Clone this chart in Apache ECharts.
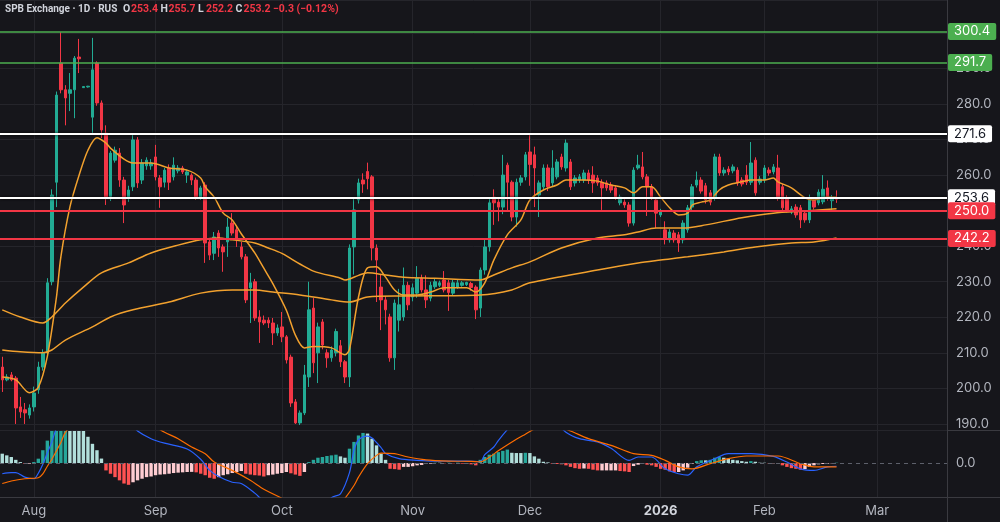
<!DOCTYPE html>
<html>
<head>
<meta charset="utf-8">
<script src="https://cdn.jsdelivr.net/npm/echarts@6/dist/echarts.min.js"></script>
<style>
  html, body { margin: 0; padding: 0; background: #16161b; }
  #main { width: 1000px; height: 522px; }
</style>
</head>
<body>
<div id="main"></div>
<script>
// daily bars, one slot each; empty slots on the right are future days
var slotCount = 210;
var monthLabels = ['Aug', 'Sep', 'Oct', 'Nov', 'Dec', '2026', 'Feb', 'Mar'];
var monthAt = [7, 34, 62, 91, 117, 146, 169, 194];

var opens = [
  206.0,202.4,203.8,202.9,194.8,194.0,192.5,194.8,199.6,206.0,
  210.0,230.0,258.0,291.5,284.0,283.0,284.0,293.2,284.6,284.8,
  276.3,291.5,280.3,271.8,254.0,264.2,266.2,258.6,253.8,256.7,
  269.9,258.6,262.6,262.6,265.1,259.2,258.0,262.0,259.5,261.2,
  262.0,260.0,260.0,258.6,253.8,257.2,241.2,238.0,243.7,239.8,
  241.2,246.5,244.6,239.8,237.0,228.3,230.0,220.1,219.2,219.2,
  218.4,215.6,217.3,214.5,208.8,196.2,190.3,193.1,203.2,222.6,
  210.0,218.7,210.0,208.6,210.0,212.0,207.5,203.2,239.8,253.0,
  258.6,261.0,259.5,239.5,228.5,224.9,220.1,208.6,219.2,220.1,
  229.0,225.7,226.8,231.0,227.7,225.4,228.6,229.0,230.5,229.7,
  226.8,228.5,229.0,229.2,229.5,228.5,222.6,233.3,239.8,253.8,
  252.4,251.0,262.8,258.0,248.2,258.0,259.5,266.5,265.7,254.4,
  256.7,262.0,257.8,259.5,265.1,262.0,263.7,257.8,258.6,258.6,
  260.6,260.0,259.2,258.0,257.8,257.2,256.4,252.2,252.4,251.6,
  246.5,262.0,262.3,259.5,256.7,253.0,248.8,244.6,241.8,243.7,
  243.2,241.8,244.6,251.0,257.2,258.6,257.0,255.0,253.5,265.1,
  260.6,261.7,261.2,261.4,258.6,260.0,258.0,264.2,258.0,258.6,
  261.4,260.9,262.0,256.7,253.5,249.6,251.0,250.8,249.3,247.4,
  253.0,252.2,252.5,256.4,252.8,253.4
];
var closes = [
  202.4,203.2,202.4,194.5,193.4,193.1,194.5,198.7,206.0,210.0,
  229.7,254.4,282.5,284.0,281.7,284.0,292.9,292.7,284.9,285.0,
  289.6,280.3,272.7,253.8,266.2,267.0,258.6,251.6,255.8,269.9,
  257.8,263.4,264.2,263.4,259.5,256.7,261.4,258.0,262.8,262.0,
  260.9,260.9,258.6,253.8,256.4,240.9,237.5,242.6,239.5,238.4,
  245.4,243.7,241.8,237.0,224.9,229.7,219.8,218.7,218.4,218.4,
  215.6,217.0,214.5,208.0,195.9,190.3,193.1,203.8,222.1,207.2,
  217.3,212.2,208.6,210.8,216.0,207.5,203.2,239.5,250.2,257.8,
  257.5,259.0,239.5,236.1,224.9,222.1,208.6,224.0,223.5,229.0,
  223.5,228.3,231.0,227.7,224.9,229.0,230.0,229.7,227.7,227.0,
  229.7,229.7,229.7,229.8,228.4,222.1,233.3,239.8,252.2,252.2,
  251.0,260.0,258.0,248.2,258.0,259.2,265.7,263.0,262.0,257.8,
  262.0,256.7,262.0,263.7,262.3,269.0,256.7,259.2,259.5,260.6,
  258.6,257.8,257.8,256.4,256.4,255.8,253.8,253.8,251.6,246.5,
  261.4,262.8,259.5,256.7,253.8,249.3,249.6,242.3,244.0,241.8,
  240.9,246.5,250.8,256.7,258.6,255.5,253.0,252.4,265.1,260.6,
  261.4,260.9,262.3,257.8,257.5,258.0,263.4,255.0,258.9,262.0,
  260.6,262.3,253.5,250.8,250.2,250.5,248.8,247.4,247.4,253.0,
  251.0,255.2,256.0,253.5,253.6,253.2
];
var highs = [
  208.9,204.0,204.6,203.5,197.6,195.9,195.5,200.5,207.5,211.0,
  231.0,256.0,283.5,300.2,285.3,288.7,293.5,298.3,285.0,285.1,
  298.6,292.0,281.0,274.0,266.8,268.0,267.6,259.5,257.0,271.3,
  270.7,264.5,265.0,264.5,268.5,260.0,262.0,263.0,265.0,262.8,
  262.6,261.5,260.5,259.3,257.0,258.0,242.0,244.0,244.5,240.5,
  248.0,249.3,245.5,241.2,237.8,232.5,230.8,222.0,220.5,220.0,
  219.8,218.0,221.5,215.0,209.5,197.0,193.8,206.6,230.0,225.4,
  218.5,219.5,211.0,211.8,216.8,213.6,208.0,240.5,253.5,259.0,
  260.5,263.5,260.0,240.5,232.0,226.0,221.0,225.0,228.0,234.0,
  230.0,229.5,234.4,232.0,231.8,230.0,231.0,230.3,233.0,230.5,
  230.5,230.5,230.2,230.0,230.0,229.0,234.0,242.0,253.5,256.0,
  253.5,265.7,263.5,258.5,259.0,260.0,266.5,271.3,268.0,258.5,
  263.0,263.0,267.0,264.5,266.0,270.0,264.5,260.0,260.3,261.5,
  261.5,262.5,260.0,258.8,258.5,258.0,257.2,254.5,253.2,252.4,
  262.2,265.7,266.5,260.3,257.5,253.8,250.5,247.0,244.8,244.5,
  244.0,247.3,251.6,257.5,261.0,259.4,257.8,255.8,266.0,266.0,
  262.2,262.5,263.0,262.2,259.4,262.8,269.3,265.0,259.7,262.8,
  262.2,263.1,265.7,257.5,254.3,251.3,251.8,251.6,250.1,254.5,
  253.8,256.0,260.0,258.5,254.4,255.7
];
var lows = [
  199.0,202.0,202.0,190.0,191.7,190.0,191.5,193.5,198.5,205.0,
  209.0,229.0,251.0,283.0,274.0,278.0,276.0,288.7,284.5,284.6,
  271.3,279.5,270.4,251.6,252.7,263.5,256.7,246.5,252.5,255.5,
  256.4,257.5,261.5,261.5,258.5,250.8,256.5,255.8,258.5,260.5,
  260.3,257.8,257.2,253.0,253.0,235.3,236.1,236.1,237.0,232.8,
  237.0,243.0,239.8,236.3,224.0,218.4,219.0,212.8,217.8,217.0,
  212.2,214.8,213.0,207.0,194.8,190.0,189.7,192.5,200.4,204.3,
  201.5,211.0,205.8,207.5,209.0,206.0,201.5,200.4,232.0,252.0,
  255.0,256.0,236.0,224.3,216.4,218.0,207.5,205.2,216.0,219.0,
  222.0,224.5,225.5,227.0,222.6,224.5,228.0,228.5,227.0,221.8,
  226.0,228.0,228.6,228.8,227.5,219.5,220.1,232.0,238.5,246.0,
  247.0,249.0,250.0,247.0,245.5,257.0,258.5,257.0,251.0,248.2,
  255.8,255.5,256.8,258.8,261.5,261.0,255.8,256.8,257.8,257.8,
  257.5,255.0,257.0,250.2,255.6,255.0,253.0,251.5,250.8,245.5,
  245.8,261.5,258.8,248.5,253.0,245.1,248.2,240.5,241.0,241.0,
  238.4,240.8,243.8,250.2,256.5,254.8,252.0,251.5,252.8,259.8,
  259.8,260.0,260.5,257.0,256.8,257.2,257.2,254.2,257.3,257.8,
  259.8,260.2,252.8,250.0,249.5,249.0,248.0,245.1,246.6,246.5,
  250.3,251.5,251.8,252.8,250.0,252.2
];

// moving averages as [bar, value]
var maFast = [[0,203.2],[3,202.4],[6,198.8],[8,200.3],[10,209],[12,225.5],[13,237],[15,251],[17,259.8],[19,267],
  [21,270.5],[23,269],[24,267.6],[27,264.5],[29,263.4],[33,263.4],[37,262],[41,261.4],[44,259.2],[45,256.7],
  [47,253.8],[49,249.3],[51,247.4],[53,243.5],[56,238.1],[58,233.8],[60,229.5],[63,222],[65,215],[67,211.4],
  [69,211.8],[73,211.4],[76,209.5],[77,211],[79,225.7],[81,233.9],[83,234.2],[85,231.3],[87,227.7],[89,226.3],
  [92,226.3],[95,227.1],[98,228.3],[103,228.3],[105,227.1],[107,229.7],[109,236.1],[112,243.2],[115,247.4],[117,253],
  [120,255.8],[123,257.2],[125,258.6],[129,258.6],[132,258.3],[135,257.2],[138,256.4],[140,255],[142,256.7],[144,256.7],
  [146,253.8],[148,250.8],[150,248.8],[152,249.3],[153,251.6],[155,252.4],[157,253],[159,255.8],[161,257.2],[164,258.1],
  [166,258.6],[169,258.6],[171,259.2],[172,258.1],[175,256.4],[178,253.6],[180,253],[183,253.8],[185,253.8]];
var maMid = [[0,222.1],[4,220.1],[9,218.4],[11,220.1],[14,224],[18,228.5],[22,232.5],[28,235.3],[33,238.1],[39,240.3],
  [44,241.8],[48,242.3],[51,241.8],[56,240.9],[59,239.5],[62,238],[64,236.5],[66,235],[69,233],[75,231],
  [76,230.5],[79,231.8],[81,232.5],[85,231.9],[89,231.3],[96,231],[106,230.5],[109,231.9],[113,233.9],[117,235.6],
  [124,239.5],[132,242.3],[138,243.2],[141,244],[145,245.1],[148,245.1],[151,245.1],[156,246],[164,248],[171,249.3],
  [178,249.9],[185,250.5]];
var maSlow = [[0,210.8],[4,210.3],[9,210],[11,210.8],[14,213.6],[20,217.3],[24,220.1],[29,222.1],[37,224.3],[44,226.8],
  [51,227.7],[56,227.7],[60,227.1],[66,226.3],[73,224.9],[77,224.3],[81,225.7],[89,226],[106,226.3],[113,227.7],
  [117,229.7],[132,233.3],[141,235.3],[146,236.1],[152,237],[160,238.4],[167,239.8],[175,240.9],[180,241.2],[185,242.3]];

// MACD panel
var macdHist = [
  1.46,1.2,0.94,0.5,0.15,-0.1,-0.1,0.15,0.68,2.0,
  3.5,5.5,7.0,8.0,8.5,8.0,7.5,6.5,5.5,4.1,
  3.0,2.0,0.7,-1.15,-1.67,-2.2,-2.7,-3.2,-3.4,-3.0,
  -2.7,-2.45,-2.2,-2.1,-1.9,-1.8,-1.75,-1.67,-1.56,-1.5,
  -1.45,-1.4,-1.38,-1.45,-1.67,-1.9,-2.3,-2.45,-2.2,-1.9,
  -1.75,-1.56,-1.4,-1.25,-1.67,-1.8,-1.9,-1.95,-2.1,-1.9,
  -1.8,-1.67,-1.56,-1.4,-1.6,-1.8,-2.0,-1.4,0.15,0.5,
  0.83,0.94,1.1,1.2,1.3,1.04,0.83,2.24,3.3,4.3,
  4.7,4.6,3.8,2.76,1.46,0.5,-0.9,-0.95,-1.04,-0.6,
  -0.6,-0.5,-0.36,-0.3,-0.15,-0.1,0.05,0.05,-0.05,0.05,
  -0.05,0.05,-0.1,-0.1,-0.2,-0.36,0.5,0.94,1.3,1.46,
  1.7,1.9,2.1,1.6,1.56,1.56,1.6,1.56,1.04,0.68,
  0.2,0.1,-0.1,-0.15,-0.2,-0.36,-0.6,-0.8,-0.9,-0.85,
  -0.9,-1.04,-1.15,-1.15,-1.15,-1.15,-1.15,-1.25,-1.3,-1.4,
  -0.47,-0.26,-0.1,-0.26,-0.36,-0.6,-0.9,-1.04,-1.3,-1.4,
  -1.4,-1.15,-0.73,-0.1,0.3,0.42,0.42,0.5,0.83,0.94,
  0.83,0.68,0.5,0.42,0.3,0.2,0.3,0.2,0.05,0.05,
  -0.05,-0.05,-0.15,-0.36,-0.6,-0.8,-0.9,-1.04,-0.94,-0.6,
  -0.36,-0.2,-0.15,-0.1,-0.05,0.05
];
var macdLine = [[0,-1.67],[2,-1.5],[3,-1.5],[5,-2.2],[7,-2.45],[8,-1.6],[9,-0.2],[10,1.6],[11,3.3],[12,5.4],
  [14,8],[17,9.8],[20,10.2],[24,9],[28,6.5],[30,5],[33,3.8],[36,3.1],[41,2.2],[44,0.6],
  [46,-1.15],[48,-2.1],[51,-3.0],[53,-3.2],[56,-4.7],[58,-6],[62,-8],[66,-9],[70,-8],[73,-5.4],
  [75,-4.8],[77,-1.5],[78,2.0],[79,3.6],[81,4.2],[82,3.9],[84,2.4],[85,1.5],[88,0.68],[92,0.42],
  [96,0.31],[103,0.31],[106,0.2],[107,1.3],[109,2.5],[110,3.5],[112,5.2],[115,7.5],[118,8.2],[121,7.5],
  [125,4.8],[128,3.8],[132,3.3],[135,2.3],[139,0.42],[141,0.94],[144,0.94],[147,-0.9],[150,-1.67],[152,-1.9],
  [154,-0.6],[158,0.68],[161,1.46],[166,1.46],[171,1.04],[174,0.15],[177,-0.9],[180,-1.15],[183,-0.6],[185,-0.5]];
var signalLine = [[0,-3.2],[2,-2.8],[5,-2.45],[8,-2.3],[9,-1.7],[10,-0.5],[11,0.6],[13,3.2],[14,4.8],[17,7],
  [21,8.3],[25,8.5],[30,7.2],[34,5.6],[36,4.8],[39,3.8],[42,2.5],[45,1.46],[47,0.15],[51,-1.15],
  [55,-2.7],[58,-4.1],[62,-5.5],[66,-7],[70,-7.5],[74,-7],[76,-5.5],[78,-3.5],[79,-2.2],[81,-0.1],
  [83,1.2],[84,1.56],[87,1.46],[90,0.94],[94,0.5],[99,0.31],[104,0.26],[106,0.2],[108,0.9],[110,1.9],
  [114,3.7],[116,4.5],[118,5.3],[122,6],[126,5],[130,3.8],[135,2.76],[140,1.46],[144,1.2],[147,0.42],
  [150,-0.6],[153,-0.9],[157,-0.1],[161,0.68],[165,1.1],[172,1.1],[177,-0.1],[180,-0.6],[185,-0.6]];

// horizontal levels drawn on the chart
var levels = [300.4, 291.7, 271.6, 253.6, 250.0, 242.2];
var levelKinds = ['green', 'green', 'white', 'white', 'red', 'red'];

// legend line at the top: symbol info, then O/H/L/C and change
var headerName = 'SPB Exchange · 1D · RUS';
var headerKeys = ['O', 'H', 'L', 'C'];
var headerVals = ['253.4', '255.7', '252.2', '253.2'];
var headerChange = '−0.3 (−0.12%)';

var UP = '#22ab94', DOWN = '#f23645', MA = '#f2a12e', GRID = '#25252b', TXT = '#b2b5be';
var kindStyle = {
  green: { line: '#4caf50', bg: '#4caf50', fg: '#ffffff', width: 1.5 },
  white: { line: '#ffffff', bg: '#ffffff', fg: '#131722', width: 2 },
  red:   { line: '#f23645', bg: '#f23645', fg: '#ffffff', width: 2 }
};

var categories = [];
for (var i = 0; i < slotCount; i++) {
  var k = monthAt.indexOf(i);
  categories.push(k >= 0 ? monthLabels[k] : '');
}
var isMonth = function (idx, val) { return val !== ''; };

var candleData = opens.map(function (o, i) { return [o, closes[i], lows[i], highs[i]]; });

var histData = macdHist.map(function (h, i) {
  var prev = i > 0 ? macdHist[i - 1] : h;
  var c;
  if (h >= 0) c = h > prev ? '#26a69a' : '#b2dfdb';
  else c = h < prev ? '#ff5252' : '#ffcdd2';
  return { value: h, itemStyle: { color: c } };
});

var levelLines = levels.map(function (v, i) {
  var kind = levelKinds[i], s = kindStyle[kind];
  return {
    yAxis: v,
    lineStyle: {
      color: s.line, type: 'solid', width: s.width, opacity: 1,
      shadowColor: kind === 'white' ? '#000' : 'transparent',
      shadowBlur: kind === 'white' ? 3 : 0
    },
    label: {
      show: true, position: 'end', distance: 1,
      formatter: v.toFixed(1),
      backgroundColor: s.bg, color: s.fg, borderRadius: 2,
      fontSize: 13, fontFamily: 'Inter', padding: [2, 6, 2, 6]
    }
  };
});

function maSeries(data) {
  return {
    type: 'line', xAxisIndex: 0, yAxisIndex: 0, data: data,
    smooth: 0.3, symbol: 'none', z: 3,
    lineStyle: { color: MA, width: 1.5 }
  };
}

var headerText = '{n|' + headerName + '}' +
  headerKeys.map(function (key, i) { return '{k|' + key + '}{v|' + headerVals[i] + '}'; }).join('') +
  '{v|' + headerChange + '}';

var chart = echarts.init(document.getElementById('main'));
var option = {
  backgroundColor: '#16161b',
  animation: false,
  textStyle: { fontFamily: 'Inter' },
  title: {
    left: 5, top: 4, padding: 0,
    text: headerText,
    textStyle: {
      fontSize: 10,
      rich: {
        n: { color: '#d1d4dc', fontSize: 10, fontFamily: 'Roboto', width: 118 },
        k: { color: '#d1d4dc', fontSize: 10.5, fontFamily: 'Roboto', width: 8 },
        v: { color: '#f23645', fontSize: 10.5, fontFamily: 'Roboto', width: 29.5 }
      }
    }
  },
  grid: [
    { left: 0, right: 53, top: 0, height: 430 },
    { left: 0, right: 53, top: 431, height: 66 }
  ],
  xAxis: [
    {
      type: 'category', gridIndex: 0, data: categories, boundaryGap: true,
      axisLine: { show: false }, axisTick: { show: false }, axisLabel: { show: false },
      splitLine: { show: true, interval: isMonth, alignWithLabel: true, lineStyle: { color: GRID } }
    },
    {
      type: 'category', gridIndex: 1, data: categories, boundaryGap: true,
      axisLine: { show: false }, axisTick: { show: false },
      axisLabel: {
        interval: isMonth, color: TXT, fontSize: 13, margin: 8,
        formatter: function (v) { return v === '2026' ? '{y|2026}' : v; },
        rich: { y: { fontWeight: 'bold', color: '#d1d4dc', fontSize: 13 } }
      },
      splitLine: { show: true, interval: isMonth, alignWithLabel: true, lineStyle: { color: GRID } }
    }
  ],
  yAxis: [
    {
      type: 'value', gridIndex: 0, position: 'right', min: 188.3, max: 309.25,
      minInterval: 10, maxInterval: 10,
      axisLine: { show: false }, axisTick: { show: false },
      axisLabel: {
        color: TXT, fontSize: 13, margin: 9,
        formatter: function (v) { return Math.abs(v % 10) < 0.001 ? v.toFixed(1) : ''; }
      },
      splitLine: { lineStyle: { color: GRID } }
    },
    {
      type: 'value', gridIndex: 1, position: 'right', min: -5.3, max: 5,
      axisLine: { show: false }, axisTick: { show: false }, splitLine: { show: false },
      axisLabel: {
        color: TXT, fontSize: 13, margin: 9,
        formatter: function (v) { return v === 0 ? '0.0' : ''; }
      }
    }
  ],
  series: [
    {
      type: 'candlestick', xAxisIndex: 0, yAxisIndex: 0, data: candleData,
      barWidth: 3, z: 2,
      itemStyle: { color: UP, color0: DOWN, borderColor: UP, borderColor0: DOWN, borderWidth: 1 }
    },
    maSeries(maSlow),
    maSeries(maMid),
    maSeries(maFast),
    {
      type: 'line', xAxisIndex: 0, yAxisIndex: 0, data: [], z: 5,
      markLine: { silent: true, symbol: ['none', 'none'], animation: false, data: levelLines }
    },
    {
      type: 'bar', xAxisIndex: 1, yAxisIndex: 1, data: histData, barWidth: 3.4, clip: true,
      markLine: {
        silent: true, symbol: ['none', 'none'], label: { show: false },
        lineStyle: { color: '#5d606b', type: [4, 4], width: 1 },
        data: [{ yAxis: 0 }]
      }
    },
    {
      type: 'line', xAxisIndex: 1, yAxisIndex: 1, data: macdLine, smooth: 0.3,
      symbol: 'none', clip: true, lineStyle: { color: '#2962ff', width: 1.2 }
    },
    {
      type: 'line', xAxisIndex: 1, yAxisIndex: 1, data: signalLine, smooth: 0.3,
      symbol: 'none', clip: true, lineStyle: { color: '#ff6d00', width: 1.2 }
    }
  ],
  graphic: [
    { type: 'line', silent: true, shape: { x1: 947.5, y1: 0, x2: 947.5, y2: 522 }, style: { stroke: '#3a3a40', lineWidth: 1 } },
    { type: 'line', silent: true, shape: { x1: 0, y1: 430.5, x2: 1000, y2: 430.5 }, style: { stroke: '#3a3a40', lineWidth: 1 } },
    { type: 'line', silent: true, shape: { x1: 0, y1: 497.5, x2: 1000, y2: 497.5 }, style: { stroke: '#3a3a40', lineWidth: 1 } }
  ]
};
chart.setOption(option);
</script>
</body>
</html>
